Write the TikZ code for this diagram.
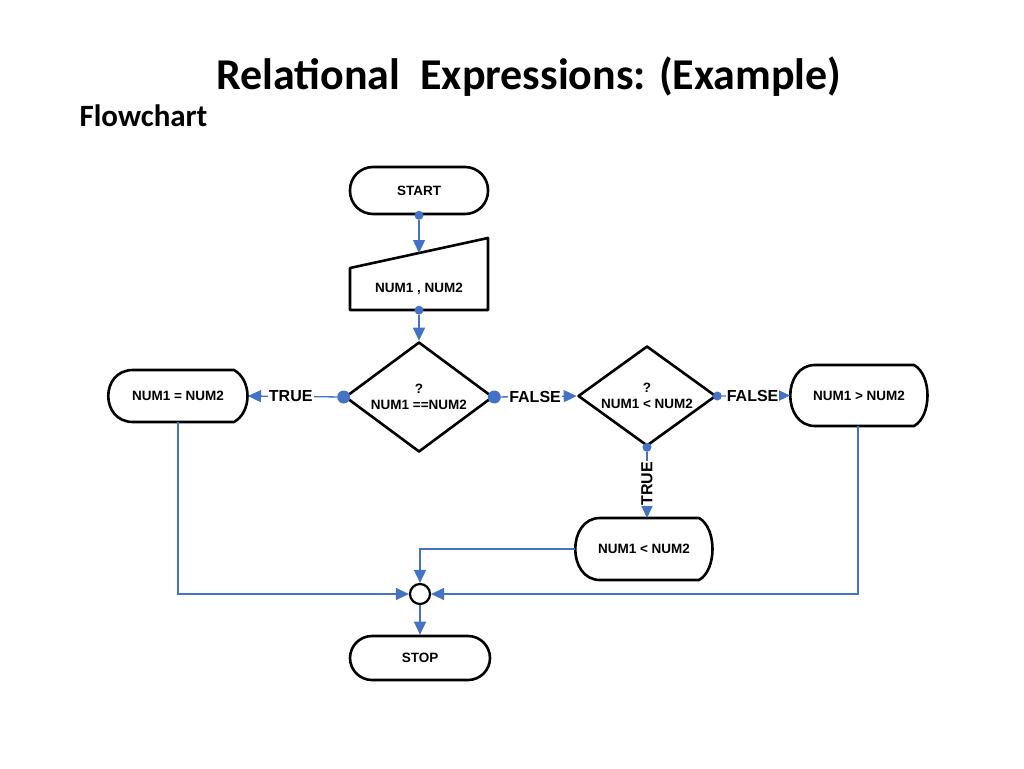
\documentclass[tikz,border=0pt]{standalone}
\usepackage{fontspec}
\setmainfont{Liberation Sans}
\newfontfamily\titlefont{Carlito}
\usetikzlibrary{arrows.meta, calc, positioning, shapes.geometric}
\definecolor{flowblue}{HTML}{4472C4}

\tikzset{
  box/.style={draw=none, minimum width=138pt, minimum height=46pt, inner sep=0pt,
    font=\fontsize{13.5}{15}\selectfont\bfseries},
  outline/.style={line width=2.6pt, line join=round},
  link/.style={flowblue, line width=1.3pt},
  tip/.style={-{Triangle[length=13pt, width=12pt]}},
  dot/.style={circle, fill=flowblue, inner sep=0pt, minimum size=9pt},
  lbl/.style={fill=white, text=black, inner sep=1pt, font=\fontsize{16}{18}\selectfont\bfseries}
}

\begin{document}
\begin{tikzpicture}[x=1pt, y=-1pt]
  \useasboundingbox (0,0) rectangle (1024,768);

  % Titel
  \node[font=\titlefont\fontsize{44}{48}\selectfont\bfseries] (title) at (529,77) {Relational\ \ Expressions: (Example)};
  \node[font=\titlefont\fontsize{31}{34}\selectfont\bfseries, anchor=west] (sub) at (76,116) {Flowchart};

  % Start / Stop
  \node[box, draw, outline, rounded corners=23pt, minimum height=47pt] (start) at (419,190.5) {START};
  \node[box, draw, outline, rounded corners=22pt, minimum width=140pt, minimum height=44pt] (stop) at (420,658) {STOP};

  % Eingabe
  \draw[outline] (350,268) -- (488,238) -- (488,310) -- (350,310) -- cycle;
  \node[box, minimum height=42pt] (inp) at (419,289) {NUM1 , NUM2};
  \coordinate (inptop) at (419,253);

  % Entscheidungen
  \node[diamond, draw, outline, aspect=1.35, minimum width=148pt, minimum height=110pt, inner sep=0pt,
    font=\fontsize{13.5}{16}\selectfont\bfseries, align=center] (qeq) at (419,397) {?\\NUM1 ==NUM2};
  \node[diamond, draw, outline, aspect=1.38, minimum width=138pt, minimum height=100pt, inner sep=0pt,
    font=\fontsize{13.5}{16}\selectfont\bfseries, align=center] (qlt) at (647,396) {?\\NUM1 < NUM2};

  % Anzeigen
  \newcommand{\dispbox}[4]{%
    \draw[outline] ($(#1,#2)+(25,0)$) -- (#3-14,#2) .. controls (#3+4,#2+10) and (#3+4,#4-10) .. (#3-14,#4)
      -- (#1+25,#4) .. controls (#1-8,#4) and (#1-8,#2) .. (#1+25,#2) -- cycle;}
  \dispbox{108}{370}{248}{422}
  \dispbox{790}{365}{928}{426}
  \dispbox{575}{518}{713}{580}
  \node[box] (deq) at (178,396) {NUM1 = NUM2};
  \node[box] (dgt) at (859,395.5) {NUM1 > NUM2};
  \node[box] (dlt) at (644,549) {NUM1 < NUM2};

  % Sammelpunkt
  \node[circle, draw, line width=2.2pt, minimum size=20pt, inner sep=0pt] (join) at (420,594) {};

  % Verbindungen
  \node[dot] (d1) at (start.south) {};
  \draw[link, tip] (d1) -- (inptop);
  \node[dot] (d2) at (inp.south) {};
  \draw[link, tip] (d2) -- (qeq.north);
  \node[dot, minimum size=13pt] (d3) at (qeq.west) {};
  \draw[link, tip] (d3) -- node[lbl, pos=0.52] {TRUE} (248,396);
  \node[dot, minimum size=13pt] (d4) at (qeq.east) {};
  \draw[link, tip] (d4) -- node[lbl, pos=0.45] {FALSE} (qlt.west);
  \node[dot] (d5) at (qlt.east) {};
  \draw[link, tip] (d5) -- node[lbl, pos=0.45] {FALSE} (790,395.5);
  \node[dot] (d6) at (qlt.south) {};
  \draw[link, tip] (d6) -- node[lbl, rotate=90, pos=0.48] {TRUE} (647,518);
  \draw[link, tip] (178,422) |- (join.west);
  \draw[link, tip] (858,426) |- (join.east);
  \draw[link, tip] (575,549) -| (join.north);
  \draw[link, tip] (join.south) -- (stop.north);
\end{tikzpicture}
\end{document}
